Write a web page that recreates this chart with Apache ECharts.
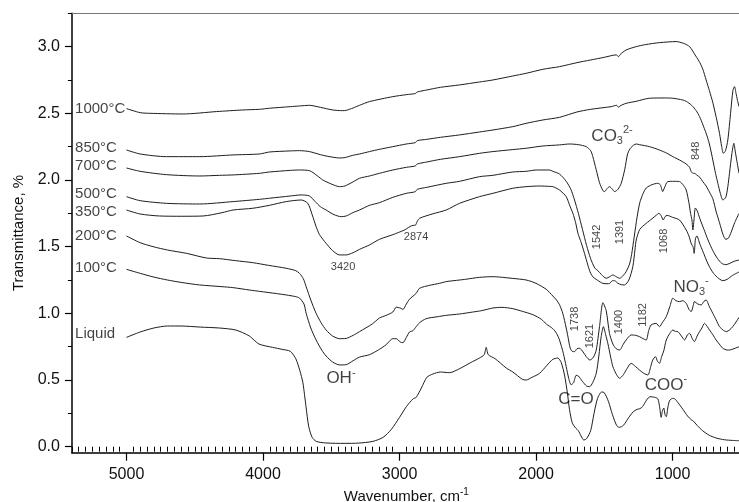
<!DOCTYPE html>
<html>
<head>
<meta charset="utf-8">
<script src="https://cdn.jsdelivr.net/npm/echarts@6/dist/echarts.min.js"></script>
<style>
  html, body { margin: 0; padding: 0; background: #ffffff; }
  #chart { width: 739px; height: 502px; }
</style>
</head>
<body>
<div id="chart"></div>
<script>
// FTIR spectra: [wavenumber (cm-1), transmittance offset]
const liquid = [[5000,0.82],[4900,0.86],[4800,0.89],[4700,0.905],[4600,0.905],[4460,0.897],[4320,0.89],[4200,0.875],[4100,0.83],[4030,0.77],[3930,0.745],[3860,0.73],[3800,0.715],[3760,0.66],[3730,0.57],[3708,0.48],[3685,0.3],[3665,0.15],[3640,0.07],[3610,0.04],[3540,0.028],[3400,0.025],[3300,0.027],[3195,0.04],[3120,0.07],[3060,0.13],[3000,0.22],[2950,0.3],[2900,0.36],[2878,0.37],[2840,0.44],[2800,0.52],[2756,0.545],[2700,0.56],[2634,0.555],[2560,0.585],[2480,0.63],[2414,0.665],[2380,0.69],[2365,0.745],[2350,0.69],[2300,0.66],[2218,0.59],[2170,0.56],[2100,0.505],[2072,0.5],[2030,0.52],[1974,0.55],[1920,0.61],[1877,0.655],[1840,0.665],[1815,0.63],[1790,0.53],[1770,0.4],[1755,0.28],[1735,0.18],[1710,0.14],[1690,0.12],[1670,0.08],[1650,0.05],[1630,0.06],[1600,0.12],[1575,0.25],[1550,0.36],[1520,0.41],[1500,0.405],[1470,0.34],[1440,0.24],[1410,0.16],[1390,0.145],[1360,0.16],[1320,0.22],[1290,0.26],[1260,0.28],[1240,0.285],[1220,0.3],[1190,0.35],[1165,0.375],[1130,0.37],[1108,0.36],[1095,0.3],[1083,0.22],[1074,0.27],[1064,0.29],[1055,0.24],[1046,0.225],[1035,0.29],[1022,0.345],[1000,0.362],[985,0.36],[960,0.33],[924,0.28],[890,0.23],[860,0.2],[850,0.195],[820,0.16],[780,0.12],[730,0.085],[680,0.065],[620,0.052],[560,0.047],[513,0.045]];

const t100 = [[5000,1.33],[4900,1.3],[4800,1.272],[4700,1.25],[4600,1.232],[4465,1.213],[4300,1.2],[4221,1.193],[4100,1.175],[4026,1.165],[3900,1.148],[3830,1.138],[3760,1.125],[3733,1.115],[3700,1.07],[3684,1.0],[3650,0.89],[3611,0.8],[3570,0.725],[3538,0.68],[3490,0.635],[3440,0.613],[3391,0.615],[3340,0.645],[3293,0.672],[3220,0.69],[3147,0.73],[3098,0.765],[3049,0.81],[3024,0.81],[2995,0.785],[2975,0.78],[2950,0.82],[2927,0.86],[2902,0.87],[2878,0.9],[2853,0.93],[2805,0.96],[2720,0.975],[2658,0.985],[2560,0.995],[2463,1.01],[2400,1.02],[2316,1.04],[2250,1.045],[2170,1.035],[2100,1.015],[2023,0.99],[1960,0.955],[1925,0.92],[1877,0.885],[1850,0.85],[1828,0.8],[1800,0.7],[1779,0.6],[1760,0.51],[1743,0.465],[1725,0.48],[1706,0.535],[1690,0.53],[1660,0.49],[1630,0.455],[1608,0.45],[1585,0.48],[1559,0.55],[1540,0.68],[1523,0.825],[1506,0.9],[1490,0.84],[1474,0.775],[1455,0.68],[1437,0.6],[1410,0.54],[1388,0.513],[1360,0.54],[1340,0.575],[1303,0.625],[1270,0.6],[1242,0.575],[1210,0.55],[1181,0.538],[1160,0.6],[1145,0.65],[1125,0.675],[1110,0.64],[1096,0.625],[1080,0.675],[1064,0.72],[1046,0.8],[1020,0.85],[998,0.875],[980,0.865],[960,0.862],[935,0.83],[912,0.8],[890,0.84],[875,0.85],[855,0.81],[840,0.788],[820,0.83],[802,0.863],[785,0.89],[766,0.925],[745,0.9],[729,0.875],[705,0.84],[681,0.8],[650,0.76],[632,0.738],[600,0.725],[583,0.725],[550,0.735],[513,0.75]];

const t200 = [[5000,1.58],[4900,1.53],[4805,1.5],[4700,1.475],[4561,1.45],[4414,1.415],[4319,1.41],[4200,1.395],[4075,1.38],[3960,1.36],[3830,1.338],[3760,1.32],[3733,1.3],[3705,1.26],[3684,1.2],[3650,1.1],[3611,1.0],[3575,0.93],[3538,0.875],[3490,0.83],[3440,0.81],[3391,0.812],[3340,0.835],[3293,0.863],[3200,0.92],[3147,0.965],[3098,0.985],[3049,1.01],[3024,1.046],[2995,1.04],[2975,1.03],[2950,1.07],[2927,1.106],[2878,1.15],[2853,1.188],[2780,1.21],[2707,1.225],[2658,1.238],[2560,1.25],[2512,1.256],[2414,1.27],[2316,1.275],[2267,1.272],[2170,1.262],[2072,1.25],[2000,1.225],[1925,1.18],[1877,1.13],[1850,1.1],[1828,1.065],[1804,1.0],[1779,0.89],[1767,0.83],[1750,0.74],[1735,0.715],[1718,0.713],[1700,0.735],[1681,0.738],[1655,0.71],[1632,0.675],[1605,0.65],[1580,0.67],[1559,0.725],[1535,0.9],[1510,1.08],[1486,1.02],[1462,0.85],[1437,0.77],[1413,0.735],[1388,0.725],[1360,0.77],[1340,0.8],[1303,0.838],[1270,0.835],[1242,0.825],[1215,0.81],[1193,0.8],[1175,0.87],[1157,0.913],[1120,0.925],[1096,0.9],[1075,0.93],[1046,0.975],[1020,1.05],[998,1.113],[975,1.095],[949,1.088],[925,1.095],[900,1.075],[880,1.03],[864,1.013],[848,1.06],[840,1.088],[815,1.07],[790,1.063],[770,1.09],[754,1.1],[730,1.05],[705,1.0],[680,0.95],[656,0.9],[630,0.875],[607,0.863],[583,0.875],[559,0.9],[535,0.935],[513,0.97]];

const t350 = [[5000,1.775],[4900,1.745],[4758,1.73],[4600,1.728],[4439,1.73],[4300,1.755],[4219,1.775],[4075,1.788],[3953,1.81],[3830,1.838],[3720,1.85],[3672,1.825],[3640,1.74],[3611,1.65],[3586,1.59],[3538,1.525],[3490,1.47],[3440,1.438],[3391,1.438],[3340,1.455],[3293,1.48],[3220,1.513],[3147,1.555],[3049,1.59],[2964,1.625],[2900,1.66],[2885,1.66],[2870,1.69],[2853,1.713],[2760,1.745],[2658,1.775],[2560,1.825],[2414,1.875],[2316,1.9],[2170,1.938],[2072,1.95],[1974,1.955],[1901,1.952],[1877,1.95],[1828,1.925],[1779,1.875],[1750,1.8],[1730,1.75],[1710,1.68],[1693,1.6],[1669,1.53],[1645,1.45],[1620,1.36],[1600,1.3],[1580,1.27],[1559,1.255],[1530,1.235],[1510,1.225],[1480,1.222],[1460,1.225],[1440,1.245],[1425,1.245],[1400,1.225],[1375,1.215],[1352,1.213],[1320,1.25],[1291,1.35],[1275,1.48],[1266,1.55],[1240,1.63],[1193,1.675],[1150,1.71],[1120,1.735],[1100,1.75],[1085,1.735],[1068,1.7],[1055,1.725],[1040,1.735],[1000,1.72],[949,1.7],[900,1.625],[880,1.58],[862,1.52],[850,1.5],[842,1.45],[832,1.56],[822,1.58],[800,1.52],[780,1.47],[740,1.37],[700,1.3],[660,1.26],[630,1.245],[600,1.255],[560,1.285],[513,1.31]];

const t500 = [[5000,1.875],[4900,1.845],[4707,1.825],[4463,1.82],[4219,1.838],[4026,1.855],[3953,1.863],[3800,1.88],[3720,1.888],[3660,1.88],[3620,1.84],[3580,1.8],[3538,1.775],[3480,1.74],[3427,1.725],[3391,1.73],[3342,1.755],[3293,1.775],[3220,1.81],[3147,1.83],[3049,1.87],[2950,1.9],[2885,1.912],[2870,1.93],[2800,1.945],[2658,1.975],[2560,1.99],[2414,2.025],[2316,2.035],[2170,2.06],[2072,2.065],[1998,2.075],[1901,2.075],[1877,2.065],[1828,2.045],[1779,1.99],[1745,1.93],[1718,1.85],[1690,1.75],[1660,1.63],[1630,1.51],[1600,1.41],[1570,1.34],[1547,1.32],[1520,1.29],[1486,1.263],[1460,1.275],[1437,1.288],[1413,1.275],[1388,1.263],[1360,1.285],[1340,1.313],[1315,1.37],[1300,1.44],[1280,1.58],[1260,1.72],[1240,1.83],[1215,1.9],[1193,1.94],[1150,1.965],[1110,1.975],[1090,1.965],[1072,1.913],[1060,1.94],[1035,1.988],[990,1.99],[949,1.988],[920,1.96],[900,1.925],[880,1.83],[868,1.75],[858,1.7],[851,1.625],[843,1.7],[833,1.79],[820,1.77],[800,1.71],[770,1.63],[740,1.55],[705,1.47],[670,1.41],[640,1.375],[610,1.365],[580,1.375],[550,1.39],[513,1.4]];

const t700 = [[5000,2.09],[4900,2.065],[4707,2.04],[4463,2.03],[4319,2.035],[4219,2.038],[4026,2.05],[3953,2.06],[3800,2.072],[3733,2.075],[3660,2.07],[3600,2.03],[3562,2.0],[3500,1.97],[3440,1.95],[3400,1.955],[3342,1.985],[3293,2.013],[3220,2.03],[3147,2.05],[3049,2.075],[2950,2.095],[2885,2.105],[2870,2.12],[2800,2.135],[2700,2.155],[2560,2.175],[2414,2.2],[2316,2.213],[2170,2.228],[2072,2.238],[1950,2.255],[1828,2.263],[1755,2.27],[1690,2.265],[1632,2.25],[1600,2.22],[1584,2.175],[1560,2.08],[1535,1.98],[1510,1.92],[1498,1.913],[1480,1.935],[1462,1.95],[1440,1.93],[1425,1.913],[1400,1.93],[1376,1.975],[1350,2.08],[1328,2.2],[1303,2.245],[1266,2.27],[1242,2.265],[1169,2.25],[1096,2.225],[1040,2.2],[998,2.175],[949,2.15],[900,2.12],[875,2.095],[864,2.065],[850,2.05],[839,2.05],[820,2.035],[800,2.02],[780,1.99],[754,1.955],[730,1.91],[705,1.86],[680,1.76],[656,1.68],[630,1.59],[610,1.555],[590,1.565],[570,1.61],[545,1.68],[513,1.75]];

const t850 = [[5000,2.225],[4900,2.195],[4707,2.175],[4463,2.175],[4219,2.188],[4026,2.195],[3953,2.21],[3800,2.218],[3733,2.22],[3660,2.213],[3580,2.19],[3538,2.18],[3440,2.165],[3400,2.168],[3342,2.185],[3293,2.195],[3220,2.213],[3147,2.23],[3049,2.25],[2950,2.27],[2885,2.28],[2870,2.295],[2800,2.305],[2700,2.32],[2560,2.338],[2414,2.36],[2316,2.375],[2170,2.4],[2072,2.425],[1950,2.45],[1828,2.47],[1700,2.51],[1600,2.53],[1450,2.55],[1410,2.56],[1395,2.545],[1385,2.555],[1340,2.575],[1266,2.59],[1169,2.613],[1050,2.615],[998,2.613],[925,2.6],[900,2.59],[860,2.56],[827,2.52],[802,2.475],[780,2.42],[754,2.35],[730,2.27],[705,2.15],[685,2.05],[668,1.975],[650,1.9],[631,1.85],[610,1.87],[595,1.95],[583,2.05],[565,2.2],[551,2.275],[540,2.21],[530,2.15],[513,2.05]];

const t1000 = [[5000,2.535],[4900,2.505],[4829,2.5],[4585,2.495],[4341,2.513],[4150,2.525],[4026,2.53],[3953,2.538],[3800,2.55],[3733,2.555],[3660,2.56],[3580,2.545],[3489,2.525],[3416,2.52],[3391,2.522],[3340,2.54],[3293,2.56],[3220,2.588],[3049,2.625],[2950,2.64],[2885,2.648],[2870,2.66],[2800,2.675],[2700,2.695],[2560,2.713],[2414,2.735],[2316,2.75],[2170,2.78],[2072,2.8],[1950,2.83],[1828,2.85],[1700,2.88],[1600,2.9],[1500,2.92],[1413,2.938],[1395,2.925],[1385,2.94],[1340,2.975],[1266,3.0],[1200,3.015],[1095,3.03],[974,3.038],[920,3.025],[875,3.0],[830,2.93],[800,2.88],[778,2.83],[754,2.75],[730,2.67],[705,2.58],[680,2.47],[656,2.35],[640,2.25],[628,2.2],[612,2.22],[595,2.3],[575,2.5],[558,2.67],[546,2.7],[535,2.65],[525,2.6],[513,2.55]];

const seriesList = [
  ['Liquid', liquid], ['100°C', t100], ['200°C', t200], ['350°C', t350],
  ['500°C', t500], ['700°C', t700], ['850°C', t850], ['1000°C', t1000]
];

// Axis ticks
const xMajorTicks = [1000, 2000, 3000, 4000, 5000];
const yMajorTicks = [0, 0.5, 1.0, 1.5, 2.0, 2.5, 3.0];
const yMinorTicks = [0.25, 0.75, 1.25, 1.75, 2.25, 2.75, 3.25];
const xMinorTicks = [];
for (let w = 500; w <= 5400; w += 50) if (w % 1000 !== 0) xMinorTicks.push(w);

// Curve labels, anchored at their left edge
const curveLabels = [
  ['1000°C', 2.533], ['850°C', 2.244], ['700°C', 2.105], ['500°C', 1.895],
  ['350°C', 1.76], ['200°C', 1.58], ['100°C', 1.34], ['Liquid', 0.845]
];
const labelStartWn = 5377;

// Band annotations (centre positions), rotated ones read bottom-to-top
const bandNumbers = [
  ['3420', 3414, 1.348, 0], ['2874', 2879, 1.573, 0],
  ['1542', 1553, 1.573, 90], ['1391', 1385, 1.61, 90], ['1068', 1062, 1.543, 90],
  ['848', 828, 2.218, 90], ['1738', 1714, 0.958, 90], ['1621', 1604, 0.83, 90],
  ['1400', 1392, 0.935, 90], ['1182', 1220, 0.988, 90]
];
const groupNotes = [
  ['{m|CO}{sub|3}{sup|2-}', 1443, 2.331],
  ['{m|NO}{sub|3}{sup|-}', 864, 1.198],
  ['{m|OH}{sup|-}', 3429, 0.515],
  ['{m|C=O}', 1707, 0.358],
  ['{m|COO}{sup|-}', 1048, 0.463]
];

const FONT = "'Liberation Sans', Arial, Helvetica, sans-serif";
const INK = '#111111';
const richStyles = {
  m: { fontSize: 17, fontFamily: FONT, color: INK, lineHeight: 22 },
  sub: { fontSize: 11, fontFamily: FONT, color: INK, lineHeight: 22, verticalAlign: 'bottom' },
  sup: { fontSize: 11, fontFamily: FONT, color: INK, lineHeight: 22, verticalAlign: 'top' }
};

const X_MIN = 500, X_MAX = 5400, Y_MIN = -0.045, Y_MAX = 3.25;

const lineSeries = seriesList.map(([name, pts]) => ({
  name: name,
  type: 'line',
  xAxisIndex: 0,
  yAxisIndex: 0,
  data: pts,
  showSymbol: false,
  smooth: 0.25,
  silent: true,
  lineStyle: { color: '#1e1e1e', width: 1 },
  emphasis: { disabled: true },
  z: 3
}));

const labelSeries = {
  type: 'scatter',
  xAxisIndex: 0,
  yAxisIndex: 0,
  symbolSize: 0,
  silent: true,
  emphasis: { disabled: true },
  z: 5,
  data: [].concat(
    curveLabels.map(([t, v]) => ({
      value: [labelStartWn, v],
      label: { show: true, position: 'right', distance: 0, formatter: t,
               fontSize: 15, fontFamily: FONT, color: INK }
    })),
    bandNumbers.map(([t, w, v, rot]) => ({
      value: [w, v],
      label: { show: true, position: 'inside', formatter: t, rotate: rot,
               align: 'center', verticalAlign: 'middle',
               fontSize: 11, fontFamily: FONT, color: INK }
    })),
    groupNotes.map(([t, w, v]) => ({
      value: [w, v],
      label: { show: true, position: 'inside', formatter: t,
               align: 'center', verticalAlign: 'middle', rich: richStyles }
    }))
  )
};

const chart = echarts.init(document.getElementById('chart'), null, { renderer: 'canvas' });
chart.setOption({
  animation: false,
  backgroundColor: '#ffffff',
  grid: { left: 71.9, right: -1.8, top: 13.3, bottom: 49.3, containLabel: false, outerBoundsMode: 'none' },
  xAxis: [
    {
      type: 'value', inverse: true, min: X_MIN, max: X_MAX, position: 'bottom',
      axisLine: { show: true, onZero: false, lineStyle: { color: '#000', width: 1.5 } },
      axisTick: { show: true, customValues: xMajorTicks, length: 8, lineStyle: { color: '#000', width: 1.2 } },
      axisLabel: { show: true, customValues: xMajorTicks, margin: 14, fontSize: 16, fontFamily: FONT, color: INK,
                   formatter: v => String(Math.round(v)) },
      splitLine: { show: false },
      name: '{a|Wavenumber, cm}{s|-1}',
      nameLocation: 'middle', nameGap: 33,
      nameTextStyle: {
        rich: {
          a: { fontSize: 15, fontFamily: FONT, color: INK, lineHeight: 18 },
          s: { fontSize: 10, fontFamily: FONT, color: INK, lineHeight: 18, verticalAlign: 'top' }
        }
      }
    },
    {
      type: 'value', inverse: true, min: X_MIN, max: X_MAX, position: 'bottom',
      axisLine: { show: false },
      axisTick: { show: true, customValues: xMinorTicks, length: 5, lineStyle: { color: '#000', width: 1 } },
      axisLabel: { show: false },
      splitLine: { show: false }
    },
    {
      type: 'value', inverse: true, min: X_MIN, max: X_MAX, position: 'top',
      axisLine: { show: true, onZero: false, lineStyle: { color: '#777', width: 1.2 } },
      axisTick: { show: false }, axisLabel: { show: false }, splitLine: { show: false }
    }
  ],
  yAxis: [
    {
      type: 'value', min: Y_MIN, max: Y_MAX, position: 'left',
      axisLine: { show: true, onZero: false, lineStyle: { color: '#000', width: 1.5 } },
      axisTick: { show: true, customValues: yMajorTicks, length: 7, lineStyle: { color: '#000', width: 1.2 } },
      axisLabel: { show: true, customValues: yMajorTicks, margin: 12, fontSize: 16, fontFamily: FONT, color: INK,
                   formatter: v => Number(v).toFixed(1) },
      splitLine: { show: false },
      name: 'Transmittance, %',
      nameLocation: 'middle', nameGap: 43,
      nameTextStyle: { fontSize: 15, fontFamily: FONT, color: INK }
    },
    {
      type: 'value', min: Y_MIN, max: Y_MAX, position: 'left',
      axisLine: { show: false },
      axisTick: { show: true, customValues: yMinorTicks, length: 4, lineStyle: { color: '#000', width: 1 } },
      axisLabel: { show: false },
      splitLine: { show: false }
    }
  ],
  series: lineSeries.concat([labelSeries])
});
</script>
</body>
</html>
